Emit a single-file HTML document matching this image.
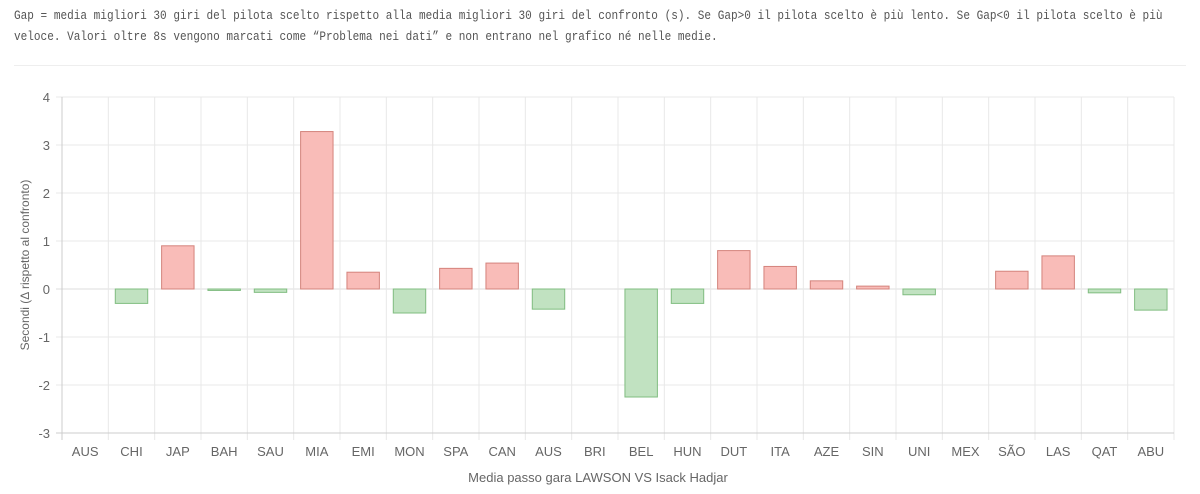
<!DOCTYPE html>
<html><head><meta charset="utf-8"><style>
body{margin:0;background:#fff;width:1200px;height:494px;overflow:hidden;font-family:"Liberation Sans",sans-serif}
.note{position:absolute;left:14px;top:6px;width:1350px;white-space:nowrap;font-family:"Liberation Mono",monospace;font-size:12.5px;line-height:21px;color:#555;transform:scaleX(0.885);transform-origin:0 0}
.hr{position:absolute;left:14px;right:14px;top:65px;border-top:1px solid #eee}
svg{position:absolute;left:0;top:0}
</style></head><body>
<div class="note">Gap = media migliori 30 giri del pilota scelto rispetto alla media migliori 30 giri del confronto (s). Se Gap&gt;0 il pilota scelto è più lento. Se Gap&lt;0 il pilota scelto è più<br>veloce. Valori oltre 8s vengono marcati come “Problema nei dati” e non entrano nel grafico né nelle medie.</div>
<div class="hr"></div>
<svg width="1200" height="494" id="s"></svg>
<script>
const s=document.getElementById('s');let h='';
const L=62,R=1174,y0=289,u=48;
const cats=["AUS","CHI","JAP","BAH","SAU","MIA","EMI","MON","SPA","CAN","AUS","BRI","BEL","HUN","DUT","ITA","AZE","SIN","UNI","MEX","SÃO","LAS","QAT","ABU"];
const v=[0,-0.3,0.9,-0.03,-0.07,3.28,0.35,-0.5,0.43,0.54,-0.42,0,-2.25,-0.3,0.8,0.47,0.17,0.06,-0.12,0,0.37,0.69,-0.08,-0.44];
const w=(R-L)/24;
for(let t=-3;t<=4;t++){const y=y0-t*u;h+=`<line x1="${L-6}" x2="${R}" y1="${y}" y2="${y}" stroke="${t==0?'#ddd':'#e8e8e8'}"/><text x="${L-12}" y="${y+5}" text-anchor="end" font-size="13" fill="#666">${t}</text>`;}
for(let i=0;i<=24;i++){const x=L+i*w;h+=`<line x1="${x}" x2="${x}" y1="97" y2="440" stroke="#e8e8e8"/>`;}
h+=`<line x1="${L}" x2="${L}" y1="97" y2="440" stroke="#ccc"/><line x1="${L-6}" x2="${R}" y1="433" y2="433" stroke="#ccc"/>`;
cats.forEach((c,i)=>{const cx=L+(i+.5)*w;h+=`<text x="${cx}" y="456" text-anchor="middle" font-size="13" fill="#666">${c}</text>`;
const val=v[i];if(val){const bw=w*0.7,x=cx-bw/2,top=val>0?y0-val*u:y0,hh=Math.abs(val)*u;
h+=`<rect x="${x}" y="${top}" width="${bw}" height="${hh}" fill="${val>0?'#f9bcb8':'#c1e2c1'}" stroke="${val>0?'#d4837c':'#80bd80'}" stroke-width="1"/>`;}});
h+=`<text x="598" y="482" text-anchor="middle" font-size="13" fill="#666">Media passo gara LAWSON VS Isack Hadjar</text>`;
h+=`<text transform="translate(29,265) rotate(-90)" text-anchor="middle" font-size="12" fill="#666">Secondi (Δ rispetto al confronto)</text>`;
s.innerHTML=h;
</script>
</body></html>
